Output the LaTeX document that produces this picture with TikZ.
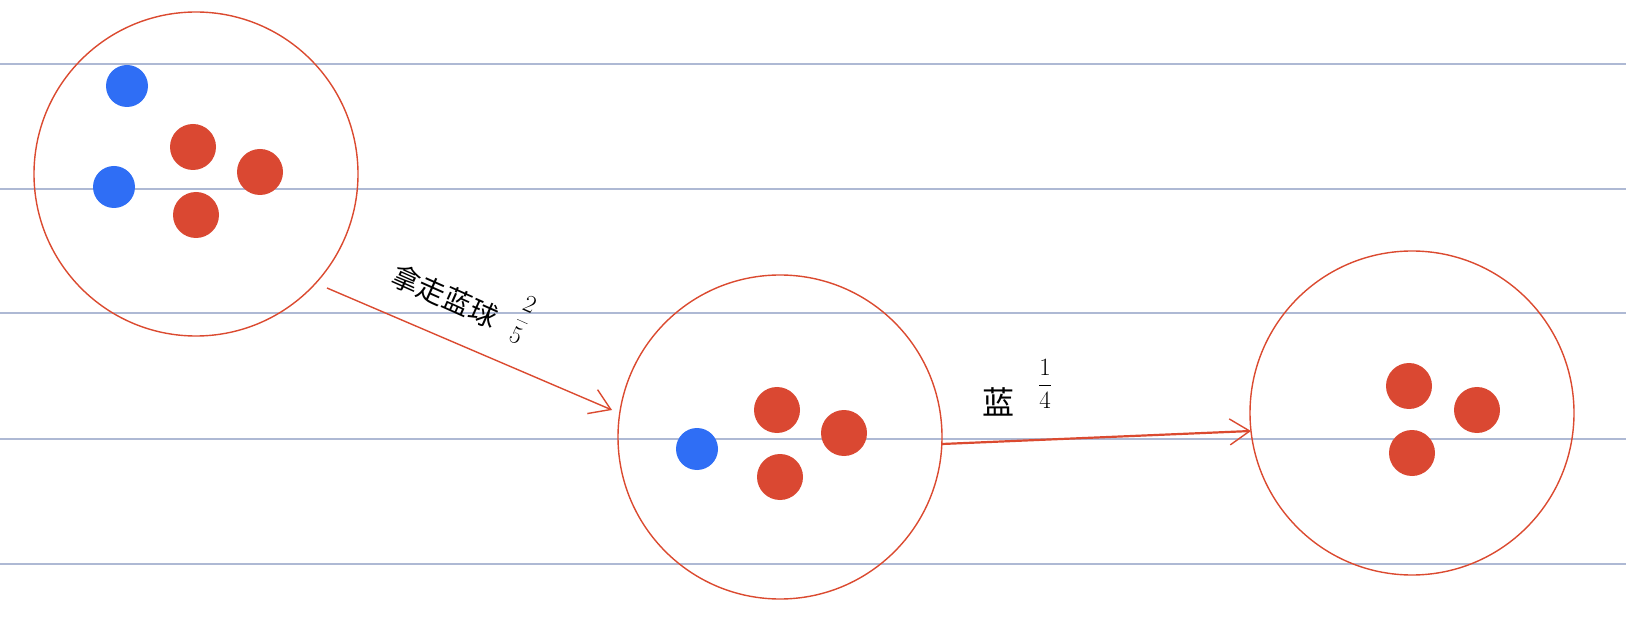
\documentclass[tikz,border=0pt]{standalone}
\usepackage{fontspec}
\newfontfamily\cjk{Noto Sans CJK SC}
\usetikzlibrary{arrows.meta}
\definecolor{ruleblue}{HTML}{AEB9D4}
\definecolor{penred}{HTML}{DB4A30}
\definecolor{dotblue}{HTML}{2F6EF5}
\definecolor{dotred}{HTML}{DA4832}
\tikzset{
  ruleline/.style={draw=ruleblue, line width=1.6pt},
  bag/.style={circle, draw=penred, line width=1.4pt, minimum size=324pt, inner sep=0pt},
  bdot/.style={circle, fill=dotblue, minimum size=42pt, inner sep=0pt},
  rdot/.style={circle, fill=dotred, minimum size=46pt, inner sep=0pt},
  pen/.style={draw=penred, line width=1.4pt, -{Straight Barb[length=20pt, width=26pt, line width=1.4pt]}},
  hand/.style={font=\cjk\fontsize{28}{30}\selectfont, text=black, inner sep=0pt}
}
\begin{document}
\begin{tikzpicture}[x=1pt, y=-1pt]
\useasboundingbox (0,0) rectangle (1626,620);
\fill[white] (0,0) rectangle (1626,620);
\foreach \yy in {64,189,313,439,564} \draw[ruleline] (0,\yy) -- (1626,\yy);
% bags
\node[bag] (c1) at (196,174) {};
\node[bag] (c2) at (780,437) {};
\node[bag] (c3) at (1412,413) {};
% balls bag 1
\node[bdot] (b11) at (127,86) {};
\node[bdot] (b12) at (114,187) {};
\node[rdot] (r11) at (193,147) {};
\node[rdot] (r12) at (260,172) {};
\node[rdot] (r13) at (196,215) {};
% balls bag 2
\node[bdot] (b21) at (697,449) {};
\node[rdot] (r21) at (777,410) {};
\node[rdot] (r22) at (844,433) {};
\node[rdot] (r23) at (780,477) {};
% balls bag 3
\node[rdot] (r31) at (1409,386) {};
\node[rdot] (r32) at (1477,410) {};
\node[rdot] (r33) at (1412,453) {};
% arrows
\coordinate (a1s) at (327,288);
\coordinate (a1e) at (612,410);
\coordinate (a2s) at (942,444);
\coordinate (a2e) at (1251,431);
\draw[pen] (a1s) -- (a1e);
\draw[pen, line width=2.2pt] (a2s) -- (a2e);
% labels
\node[hand, rotate=-24] (l1) at (445,296) {拿走蓝球};
\node[hand, rotate=-24, font=\fontsize{30}{32}\selectfont] (l1f) at (523,320) {$\displaystyle\frac{2}{5}$};
\node[hand, font=\cjk\fontsize{32}{34}\selectfont] (l2) at (998,402) {蓝};
\node[hand, font=\fontsize{36}{38}\selectfont] (l3) at (1045,384) {$\displaystyle\frac{1}{4}$};
\end{tikzpicture}
\end{document}
